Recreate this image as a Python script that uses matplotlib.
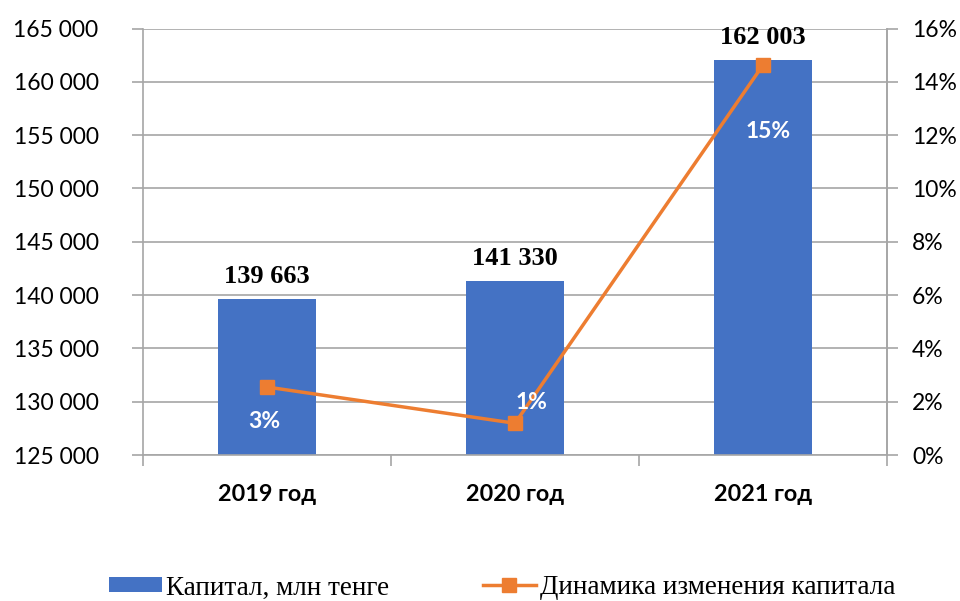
import matplotlib
matplotlib.use("Agg")
import matplotlib.pyplot as plt
from matplotlib.ticker import FuncFormatter, MultipleLocator, FixedLocator
from matplotlib.lines import Line2D
from matplotlib.patches import Patch

categories = ["2019 год", "2020 год", "2021 год"]
capital = [139663, 141330, 162003]
dynamics = [2.55, 1.19, 14.63]
capital_labels = ["139 663", "141 330", "162 003"]
dynamics_labels = ["3%", "1%", "15%"]

BLUE = "#4472C4"
ORANGE = "#ED7D31"
GRID = "#A6A6A6"
SANS = ["Lato", "DejaVu Sans"]
SERIF = ["Liberation Serif", "DejaVu Serif"]

fig = plt.figure(figsize=(9.6, 6.01), dpi=100)
ax = fig.add_axes([143/960, 1-455/601, (887-143)/960, (455-28.5)/601])
x = list(range(len(categories)))
ax.bar(x, capital, width=0.395, color=BLUE, zorder=2)
ax.set_xlim(-0.5, 2.5)
ax.set_ylim(125000, 165000)
ax.yaxis.set_major_locator(MultipleLocator(5000))
ax.yaxis.set_major_formatter(FuncFormatter(lambda v, p: f"{int(v):,}".replace(",", " ")))
ax.grid(axis="y", color=GRID, linewidth=1.2, zorder=0)
ax.set_axisbelow(True)
ax.spines["top"].set_visible(False)
for s in ["left", "right", "bottom"]:
    ax.spines[s].set_color(GRID)
    ax.spines[s].set_linewidth(1.2)
ax.tick_params(axis="y", length=8, color=GRID, width=1.2, labelsize=16.5, pad=24)
ax.xaxis.set_major_locator(FixedLocator([-0.5, 0.5, 1.5, 2.5]))
ax.xaxis.set_major_formatter(FuncFormatter(lambda v, p: ""))
ax.xaxis.set_minor_locator(FixedLocator(x))
ax.set_xticklabels(categories, minor=True)
ax.tick_params(axis="x", which="major", length=8, color=GRID, width=1.2)
ax.tick_params(axis="x", which="minor", length=0, labelsize=16.8, pad=21)
for lbl in ax.get_yticklabels():
    lbl.set_family(SANS)
for lbl in ax.get_xticklabels(minor=True):
    lbl.set_family(SANS)
    lbl.set_fontweight("bold")

for xi, v, t in zip(x, capital, capital_labels):
    ax.annotate(t, (xi, v), xytext=(0, 8), textcoords="offset points", ha="center",
                va="bottom", fontsize=19, fontweight="bold", family=SERIF, zorder=5)

ax2 = ax.twinx()
ax2.set_ylim(0, 16)
ax2.yaxis.set_major_locator(MultipleLocator(2))
ax2.yaxis.set_major_formatter(FuncFormatter(lambda v, p: f"{int(v)}%"))
ax2.plot(x, dynamics, color=ORANGE, linewidth=2.5, marker="s", markersize=10, zorder=4)
for s in ["top", "left", "bottom"]:
    ax2.spines[s].set_visible(False)
ax2.spines["right"].set_color(GRID)
ax2.spines["right"].set_linewidth(1.2)
ax2.tick_params(axis="y", length=8, color=GRID, width=1.2, labelsize=16.5, pad=10)
for lbl in ax2.get_yticklabels():
    lbl.set_family(SANS)

offsets = [(-2, -25), (12, 15), (4, -48)]
for xi, v, t, off in zip(x, dynamics, dynamics_labels, offsets):
    ax2.annotate(t, (xi, v), xytext=off, textcoords="offset points", ha="center",
                 va="center", fontsize=16.5, fontweight="bold", color="white",
                 family=SANS, zorder=6)

legend_y = 1 - 588/601
fig.legend([Patch(facecolor=BLUE, edgecolor="none")], ["Капитал, млн тенге"],
           loc="center left", bbox_to_anchor=(109/960, legend_y), frameon=False,
           prop={"family": SERIF, "size": 19.5}, handlelength=1.95, handleheight=0.48,
           handletextpad=0.15, borderpad=0, borderaxespad=0)
fig.legend([Line2D([0], [0], color=ORANGE, linewidth=2.5, marker="s", markersize=10)],
           ["Динамика изменения капитала"],
           loc="center left", bbox_to_anchor=(483/960, legend_y), frameon=False,
           prop={"family": SERIF, "size": 19.5}, handlelength=1.95,
           handletextpad=0.15, borderpad=0, borderaxespad=0)

fig.savefig("out.png", dpi=100)
